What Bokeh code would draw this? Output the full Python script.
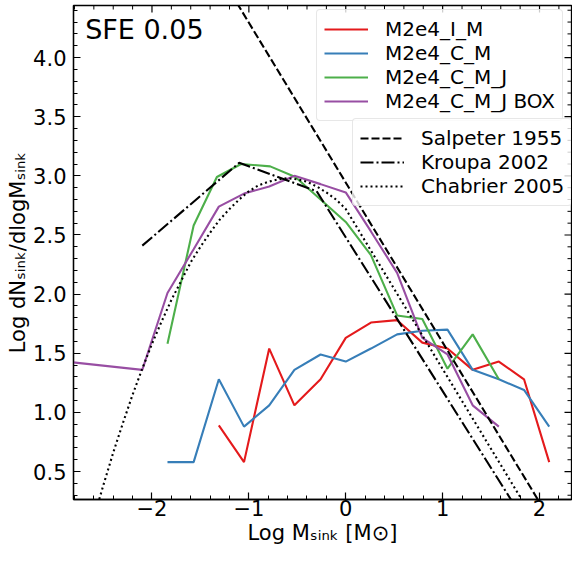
import numpy as np
from bokeh.plotting import figure
from bokeh.models import (Legend, LegendItem, SingleIntervalTicker, Label, Range1d)
from bokeh.embed import file_html
from bokeh.resources import INLINE

# ---------------- data ----------------
red_x = [-1.31, -1.05, -0.79, -0.53, -0.26, 0.00, 0.26, 0.53, 0.79, 1.05, 1.31, 1.58, 1.84, 2.10]
red_y = [0.89, 0.58, 1.54, 1.06, 1.28, 1.63, 1.76, 1.78, 1.59, 1.54, 1.36, 1.43, 1.28, 0.58]

blue_x = [-1.84, -1.57, -1.31, -1.05, -0.79, -0.53, -0.26, 0.00, 0.26, 0.53, 0.79, 1.05, 1.31, 1.58, 1.84, 2.10]
blue_y = [0.58, 0.58, 1.28, 0.88, 1.06, 1.36, 1.49, 1.43, 1.54, 1.66, 1.69, 1.70, 1.36, 1.28, 1.19, 0.88]

green_x = [-1.84, -1.57, -1.33, -1.08, -0.78, -0.52, -0.26, 0.00, 0.26, 0.53, 0.79, 1.05, 1.31, 1.58]
green_y = [1.58, 2.58, 2.99, 3.10, 3.08, 2.99, 2.80, 2.61, 2.33, 1.82, 1.79, 1.37, 1.66, 1.28]

purple_x = [-2.89, -2.10, -1.84, -1.57, -1.31, -1.05, -0.79, -0.53, -0.26, 0.00, 0.26, 0.53, 0.79, 1.05, 1.31, 1.58]
purple_y = [1.43, 1.36, 2.01, 2.38, 2.74, 2.85, 2.91, 3.00, 2.93, 2.86, 2.53, 2.18, 1.63, 1.49, 1.06, 0.88]

salpeter_x = [-1.30, 2.20]
salpeter_y = [4.70, -0.03]

kroupa_x = [-2.10, -1.10, -0.30, 2.00]
kroupa_y = [2.41, 3.11, 2.87, -0.12]

chabrier_x = [-2.7, -2.6, -2.5, -2.4, -2.3, -2.2, -2.1, -2.0, -1.9, -1.8, -1.7, -1.6, -1.5, -1.4,
              -1.3, -1.2, -1.1, -1.0, -0.9, -0.8, -0.7, -0.6, -0.5, -0.4, -0.3, -0.2, -0.1, 0.0, 2.1]
chabrier_y = [-0.18, 0.11, 0.39, 0.66, 0.91, 1.15, 1.37, 1.58, 1.77, 1.95, 2.11, 2.27, 2.40, 2.52,
              2.63, 2.72, 2.80, 2.87, 2.92, 2.95, 2.97, 2.98, 2.97, 2.95, 2.91, 2.86, 2.80, 2.72, -0.12]

series_names = ["M2e4_I_M", "M2e4_C_M", "M2e4_C_M_J", "M2e4_C_M_J BOX"]
series_colors = ["#e41a1c", "#377eb8", "#4daf4a", "#984ea3"]
ref_names = ["Salpeter 1955", "Kroupa 2002", "Chabrier 2005"]

x_ticks = [-2, -1, 0, 1, 2]
x_tick_labels = ["\u22122", "\u22121", "0", "1", "2"]
y_ticks = [0.5, 1.0, 1.5, 2.0, 2.5, 3.0, 3.5, 4.0]
y_tick_labels = ["0.5", "1.0", "1.5", "2.0", "2.5", "3.0", "3.5", "4.0"]

title_text = "SFE 0.05"
x_label = "Log M\u209b\u1d62\u2099\u2096 [M\u2299]"
y_label = "Log dN\u209b\u1d62\u2099\u2096/dlogM\u209b\u1d62\u2099\u2096"

FONT = "DejaVu Sans"
X0, X1 = -2.81, 2.33
Y0, Y1 = 0.264, 4.44

p = figure(width=572, height=551, output_backend="svg", toolbar_location=None,
           x_range=Range1d(X0, X1), y_range=Range1d(Y0, Y1),
           min_border_left=73, min_border_right=1, min_border_top=5, min_border_bottom=52)
p.background_fill_color = "white"
p.border_fill_color = "white"
p.xgrid.visible = False
p.ygrid.visible = False
p.outline_line_color = "black"
p.outline_line_width = 1.3

def style_axis(ax, ticks, labels):
    ax.ticker = SingleIntervalTicker(interval=ticks, num_minor_ticks=5)
    ax.major_tick_in = 7
    ax.major_tick_out = 0
    ax.minor_tick_in = 4
    ax.minor_tick_out = 0
    ax.major_tick_line_width = 1.2
    ax.minor_tick_line_width = 1
    ax.axis_line_width = 1.3
    ax.major_label_text_font = FONT
    ax.major_label_text_font_size = "21px"
    ax.major_label_text_color = "black"
    ax.axis_label_text_font = FONT
    ax.axis_label_text_font_size = "21px"
    ax.axis_label_text_font_style = "normal"
    ax.axis_label_text_color = "black"
    ax.major_label_overrides = labels

xax = p.xaxis[0]
yax = p.yaxis[0]
style_axis(xax, 1, {t: l for t, l in zip(x_ticks, x_tick_labels)})
style_axis(yax, 0.5, {t: l for t, l in zip(y_ticks, y_tick_labels)})
xax.axis_label = x_label
yax.axis_label = y_label
xax.major_label_standoff = 0
xax.axis_label_standoff = 2
yax.major_label_standoff = 7
yax.axis_label_standoff = 0

# mirrored inward ticks on the top and right edges
x_minor = [v for v in np.round(np.arange(-2.8, X1 + 1e-9, 0.2), 1) if abs(v - round(v)) > 1e-6]
y_minor = [v for v in np.round(np.arange(0.3, Y1 + 1e-9, 0.1), 1) if abs(v * 2 - round(v * 2)) > 1e-6]
tick_kw = dict(line_color="black", length_units="screen")
p.ray(x=x_ticks, y=[Y1] * len(x_ticks), length=7, angle=-np.pi / 2, line_width=1.2, **tick_kw)
p.ray(x=x_minor, y=[Y1] * len(x_minor), length=4, angle=-np.pi / 2, line_width=1, **tick_kw)
p.ray(x=[X1] * len(y_ticks), y=y_ticks, length=7, angle=np.pi, line_width=1.2, **tick_kw)
p.ray(x=[X1] * len(y_minor), y=y_minor, length=4, angle=np.pi, line_width=1, **tick_kw)

# data lines
rs = []
for xs, ys, c in zip([red_x, blue_x, green_x, purple_x], [red_y, blue_y, green_y, purple_y], series_colors):
    rs.append(p.line(xs, ys, line_color=c, line_width=2.1))

r_sal = p.line(salpeter_x, salpeter_y, line_color="black", line_width=2.1, line_dash="8 3")
r_kro = p.line(kroupa_x, kroupa_y, line_color="black", line_width=2.1, line_dash="13 3 2 3")
r_cha = p.line(chabrier_x, chabrier_y, line_color="black", line_width=2.1, line_dash="2 3")

def make_legend(items, loc):
    lg = Legend(items=items, location=loc)
    lg.label_text_font = FONT
    lg.label_text_font_size = "20px"
    lg.label_text_color = "black"
    lg.glyph_width = 44
    lg.glyph_height = 20
    lg.label_height = 20
    lg.label_standoff = 17
    lg.padding = 7
    lg.spacing = 0
    lg.margin = 0
    lg.border_line_color = "#d0d0d0"
    lg.border_line_width = 1
    lg.background_fill_color = "white"
    lg.background_fill_alpha = 0.8
    try:
        lg.border_radius = 4
    except Exception:
        pass
    return lg

# location = bottom-left corner, in px from the frame's bottom-left
leg1 = make_legend([LegendItem(label=n, renderers=[r]) for n, r in zip(series_names, rs)], (243, 378))
leg2 = make_legend([LegendItem(label=n, renderers=[r]) for n, r in zip(ref_names, [r_sal, r_kro, r_cha])], (279, 293))
p.add_layout(leg1)
p.add_layout(leg2)

p.add_layout(Label(x=-2.69, y=4.24, text=title_text, text_font=FONT, text_font_size="27px",
                   text_color="black", text_align="left", text_baseline="middle"))

open("out.html", "w").write(file_html(p, INLINE))
